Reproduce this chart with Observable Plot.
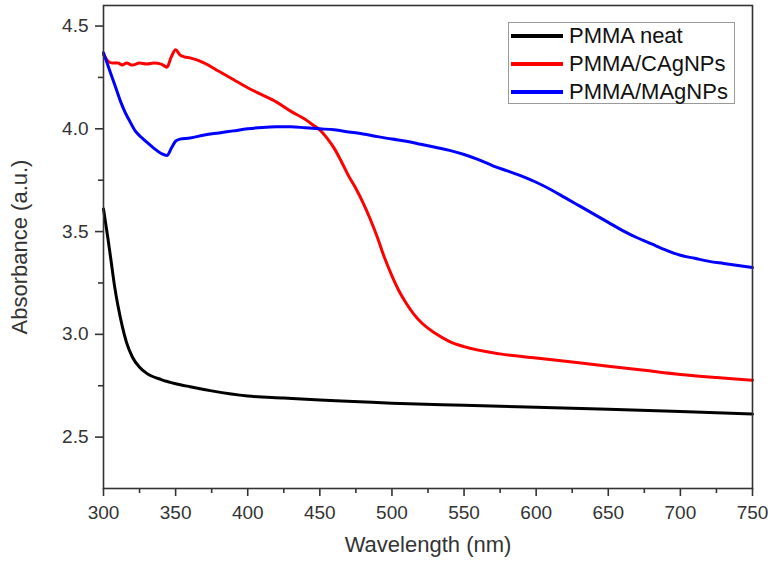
<!DOCTYPE html>
<html><head><meta charset="utf-8">
<script src="https://cdn.jsdelivr.net/npm/d3@7"></script>
<script src="https://cdn.jsdelivr.net/npm/@observablehq/plot@0.6"></script>
<style>
body{margin:0;background:#fff;font-family:"Liberation Sans",Arial,sans-serif;}
#wrap{position:relative;width:774px;height:564px;}
#legend{position:absolute;left:508px;top:22px;width:225px;height:80px;border:1px solid #9a9a9a;background:#fff;}
.row{display:flex;align-items:center;height:28px;}
.row:first-child{margin-top:-1px;}
.sw{margin-left:2px;width:52px;height:4px;margin-right:6px;}
.lab{font-size:22px;color:#111;line-height:28px;}
g[aria-label="x-axis label"] text, g[aria-label="y-axis label"] text{font-size:22px;}
g[aria-label="x-axis tick"], g[aria-label="y-axis tick"]{stroke:#333;stroke-width:1.6px;}
</style></head>
<body><div id="wrap"></div>
<script>
const seriesNames = ["PMMA neat", "PMMA/CAgNPs", "PMMA/MAgNPs"];
const seriesColors = ["#000000", "#ff0000", "#0000ff"];

const wlNeat  = [300, 303, 305, 308, 310, 313, 316, 320, 325, 330, 340, 350, 360, 375, 400, 425, 450, 500, 550, 600, 650, 700, 750];
const absNeat = [3.61, 3.47, 3.37, 3.22, 3.14, 3.04, 2.96, 2.89, 2.84, 2.81, 2.78, 2.76, 2.745, 2.725, 2.70, 2.69, 2.68, 2.665, 2.655, 2.645, 2.635, 2.625, 2.612];

const wlC  = [300, 303, 306, 310, 313, 316, 320, 325, 330, 335, 340, 344, 347, 350, 353, 356, 360, 370, 380, 390, 400, 410, 420, 430, 440, 445, 450, 455, 460, 465, 470, 475, 480, 485, 490, 495, 500, 505, 510, 515, 520, 530, 540, 550, 575, 600, 625, 650, 675, 700, 725, 750];
const absC = [4.36, 4.33, 4.32, 4.32, 4.31, 4.32, 4.31, 4.32, 4.315, 4.32, 4.315, 4.30, 4.35, 4.385, 4.36, 4.35, 4.345, 4.32, 4.28, 4.24, 4.20, 4.165, 4.13, 4.085, 4.045, 4.02, 3.995, 3.955, 3.905, 3.84, 3.77, 3.71, 3.64, 3.56, 3.47, 3.37, 3.285, 3.21, 3.15, 3.10, 3.06, 3.005, 2.965, 2.94, 2.905, 2.885, 2.865, 2.845, 2.825, 2.805, 2.79, 2.777];

const wlM  = [300, 303, 306, 309, 312, 315, 318, 322, 326, 330, 335, 340, 344, 347, 350, 353, 360, 370, 380, 390, 400, 410, 420, 430, 440, 450, 460, 470, 480, 490, 500, 510, 520, 530, 540, 550, 560, 570, 580, 590, 600, 610, 620, 630, 640, 650, 660, 670, 680, 690, 700, 710, 720, 730, 740, 750];
const absM = [4.37, 4.31, 4.25, 4.19, 4.13, 4.08, 4.04, 3.99, 3.96, 3.935, 3.905, 3.88, 3.87, 3.905, 3.94, 3.95, 3.955, 3.97, 3.98, 3.99, 4.00, 4.007, 4.01, 4.01, 4.005, 4.0, 3.995, 3.985, 3.975, 3.962, 3.95, 3.94, 3.925, 3.91, 3.895, 3.875, 3.85, 3.82, 3.795, 3.77, 3.74, 3.705, 3.665, 3.625, 3.585, 3.545, 3.505, 3.47, 3.44, 3.41, 3.385, 3.37, 3.355, 3.345, 3.335, 3.325];

const xMajor = [300, 350, 400, 450, 500, 550, 600, 650, 700, 750];
const xMinor = [325, 375, 425, 475, 525, 575, 625, 675, 725];
const yMajor = [2.5, 3.0, 3.5, 4.0, 4.5];
const yMinor = [2.75, 3.25, 3.75, 4.25];

const table = [];
[[wlNeat, absNeat], [wlC, absC], [wlM, absM]].forEach(([w, a], i) => {
  w.forEach((x, j) => table.push({series: seriesNames[i], wl: x, abs: a[j]}));
});

const chart = Plot.plot({
  width: 774, height: 564,
  marginLeft: 103, marginRight: 22, marginTop: 5, marginBottom: 76,
  style: {fontFamily: '"Liberation Sans", Arial, sans-serif', fontSize: "19px", color: "#333", background: "#fff"},
  x: {domain: [300, 750]},
  y: {domain: [2.25, 4.6]},
  color: {domain: seriesNames, range: seriesColors},
  marks: [
    Plot.axisX({ticks: xMajor, tickSize: 8, tickPadding: 9, tickFormat: d3.format("d"), label: "Wavelength (nm)", labelAnchor: "center", labelArrow: "none", labelOffset: 63}),
    Plot.axisX({ticks: xMinor, tickSize: 5, tickFormat: () => "", label: null}),
    Plot.axisY({ticks: yMajor, tickSize: 8, tickPadding: 7, tickFormat: d3.format(".1f"), label: "Absorbance (a.u.)", labelAnchor: "center", labelArrow: "none", labelOffset: 92}),
    Plot.axisY({ticks: yMinor, tickSize: 5, tickFormat: () => "", label: null}),
    Plot.line(table, {x: "wl", y: "abs", z: "series", stroke: "series", strokeWidth: 3, curve: "monotone-x"}),
    Plot.frame({stroke: "#333", strokeWidth: 1.6})
  ]
});
const wrap = document.getElementById("wrap");
wrap.appendChild(chart);

const legend = document.createElement("div");
legend.id = "legend";
seriesNames.forEach((name, i) => {
  const row = document.createElement("div");
  row.className = "row";
  const sw = document.createElement("div");
  sw.className = "sw";
  sw.style.background = seriesColors[i];
  const lab = document.createElement("span");
  lab.className = "lab";
  lab.textContent = name;
  row.appendChild(sw); row.appendChild(lab);
  legend.appendChild(row);
});
wrap.appendChild(legend);
</script>
</body></html>
